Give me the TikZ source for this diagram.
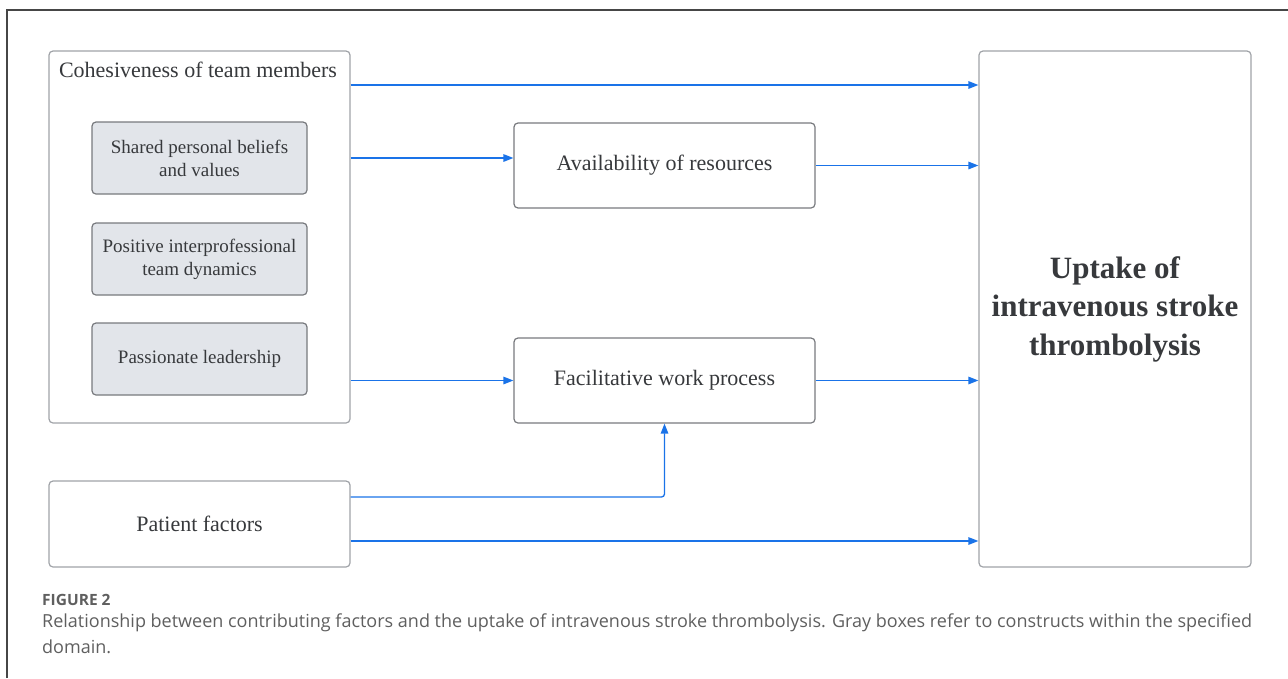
\documentclass[tikz,border=0pt]{standalone}
\usepackage{fontspec}
\setmainfont{Liberation Serif}
\newfontfamily\capfont{Open Sans}
\usetikzlibrary{arrows.meta}

\definecolor{linkblue}{RGB}{26,115,232}
\definecolor{boxgray}{RGB}{160,163,168}
\definecolor{darkbox}{RGB}{120,122,126}
\definecolor{fillgray}{RGB}{226,229,234}
\definecolor{txtgray}{RGB}{55,57,60}
\definecolor{capgray}{RGB}{95,95,95}
\definecolor{framegray}{RGB}{70,70,70}

\begin{document}
\begin{tikzpicture}[x=1pt, y=-1pt,
  box/.style={draw=boxgray, line width=1.2pt, rounded corners=4pt, fill=white,
    align=center, text=txtgray, font=\fontsize{22}{27}\selectfont},
  construct/.style={box, fill=fillgray, draw=darkbox, minimum width=215pt,
    minimum height=72pt, font=\fontsize{19}{23}\selectfont},
  link/.style={draw=linkblue, line width=1.3pt, -{Triangle[length=10pt,width=7.5pt]}}]
  \useasboundingbox (0,0) rectangle (1288,678);

  % frame
  \draw[framegray, line width=1.4pt] (7,678) -- (7,10) -- (1288,10);

  % domain box and its constructs
  \node[box, minimum width=301pt, minimum height=372pt] (coh) at (199.5,237) {};
  \node[text=txtgray, font=\fontsize{22}{27}\selectfont] (cohtitle) at (198,70)
    {Cohesiveness of team members};
  \node[construct] (shared) at (199.5,158) {Shared personal beliefs\\and values};
  \node[construct] (positive) at (199.5,259) {Positive interprofessional\\team dynamics};
  \node[construct] (passion) at (199.5,359) {Passionate leadership};

  % middle factors
  \node[box, draw=darkbox, minimum width=301pt, minimum height=85pt] (avail) at (664.5,165.5)
    {Availability of resources};
  \node[box, draw=darkbox, minimum width=301pt, minimum height=85pt] (facil) at (664.5,380.5)
    {Facilitative work process};

  % patient factors
  \node[box, minimum width=301pt, minimum height=86pt] (patient) at (199.5,524) {Patient factors};

  % outcome
  \node[box, minimum width=272pt, minimum height=516pt,
    font=\fontsize{31}{38.5}\selectfont\bfseries] (uptake) at (1115,309)
    {Uptake of\\intravenous stroke\\thrombolysis};

  % connectors
  \coordinate (toprow) at (0,85);
  \coordinate (p1) at ([yshift=27pt]patient.east);
  \coordinate (p2) at ([yshift=-17pt]patient.east);
  \draw[link] (coh.east |- toprow) -- (uptake.west |- toprow);
  \draw[link] (coh.east |- shared) -- (avail.west |- shared);
  \draw[link] (avail.east) -- (uptake.west |- avail.east);
  \draw[link] (coh.east |- facil) -- (facil.west);
  \draw[link] (facil.east) -- (uptake.west |- facil.east);
  \draw[link, rounded corners=3pt] (p1) -| (facil.south);
  \draw[link] (p2) -- (uptake.west |- p2);

  % caption
  \node[anchor=base west, inner sep=0pt, text=capgray,
    font=\capfont\fontsize{15.5}{18}\selectfont\bfseries] (figlabel) at (42,605) {FIGURE 2};
  \node[anchor=north west, align=left, inner sep=0pt, text=capgray,
    font=\capfont\fontsize{18}{26}\selectfont] (caption) at (42,614)
    {Relationship between contributing factors and the uptake of intravenous stroke thrombolysis. Gray boxes refer to constructs within the specified\\domain.};
\end{tikzpicture}
\end{document}
